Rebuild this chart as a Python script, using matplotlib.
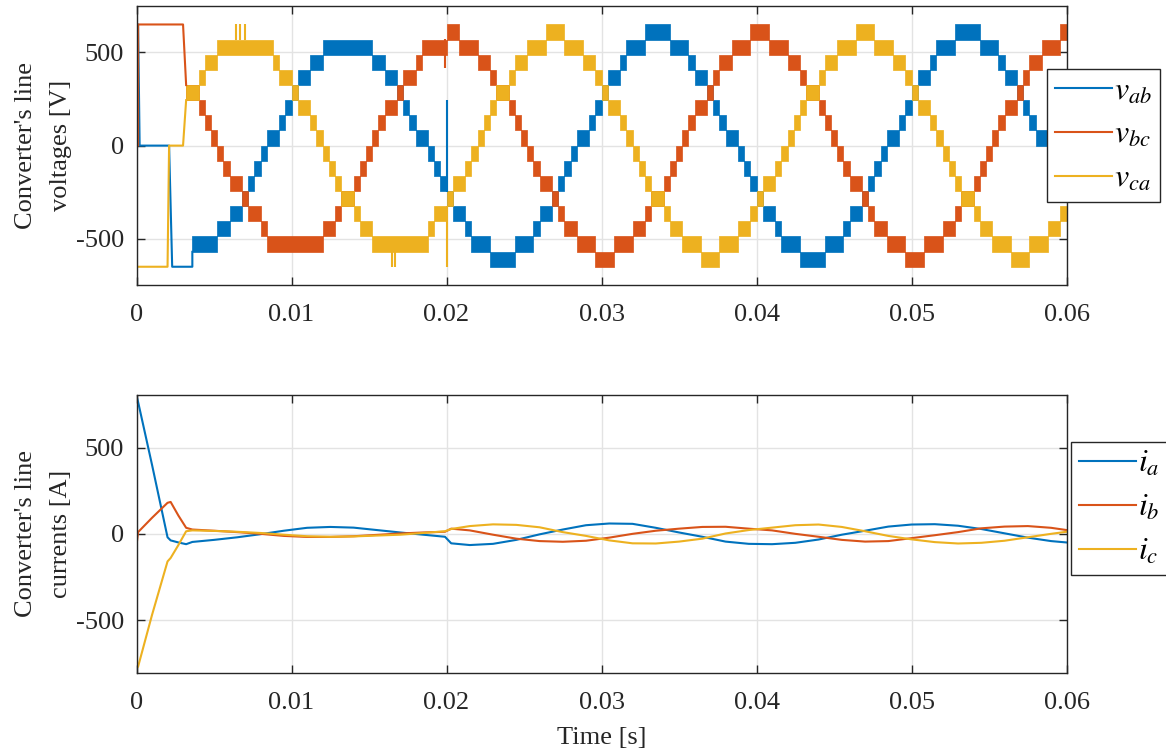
import numpy as np
import matplotlib.pyplot as plt
from matplotlib.lines import Line2D

plt.rcParams['font.family'] = ['Liberation Serif', 'DejaVu Serif']
plt.rcParams['mathtext.fontset'] = 'stix'
plt.rcParams['axes.unicode_minus'] = False

# MATLAB default colour order
c_ab = '#0072BD'
c_bc = '#D95319'
c_ca = '#EDB120'

# ---------------- line voltages ----------------
# start-up part (before the multilevel modulation begins)
vab_start_t = [0, 0, 0.0001, 0.0002, 0.0021, 0.0023, 0.0036, 0.0036]
vab_start_v = [0, 650, 650, 0, 0, -650, -650, -570]
vbc_start_t = [0, 0.0001, 0.0001, 0.0030, 0.0032]
vbc_start_v = [0, 0, 650, 650, 325]
vca_start_t = [0, 0, 0.0020, 0.0021, 0.0030, 0.0032]
vca_start_v = [0, -650, -650, 0, 0, 244]

# staircase: index of the lower level of the switching band,
# sampled every 0.4 ms from t = 3.2 ms (one level = 650/8 V)
v_t0 = 0.0032
v_dt = 0.0004
lvl = 650 / 8
vab_lvl = [None, -7, -7, -7, -7, -6, -6, -5, -5, -4, -3, -2, -1,
           0, 0, 1, 2, 3, 4, 4, 5, 5, 6, 6, 6, 6, 6, 6, 6, 6,
           5, 5, 4, 4, 3, 2, 1, 0, 0, -1, -2, -3,
           -4, -5, -5, -6, -7, -7, -7, -8,
           -8, -8, -8, -7, -7, -7, -6, -5, -5, -4, -3, -2, -1,
           0, 0, 1, 2, 3, 4, 4, 5, 6, 6, 6, 7, 7, 7, 7,
           6, 6, 6, 5, 4, 4, 3, 2, 1, 0, 0, -1, -2, -3, -4, -5, -5, -6, -7, -7, -7, -8,
           -8, -8, -8, -7, -7, -7, -6, -5, -5, -4, -3, -2, -1,
           0, 0, 1, 2, 3, 4, 4, 5, 6, 6, 6, 7, 7, 7, 7,
           6, 6, 6, 5, 4, 4, 3, 2, 1, 0, 0, -1, -2, -3, -4]
vbc_lvl = [3, 3, 2, 1, 0, -1, -2, -3, -3, -4, -5, -5, -6, -7, -7,
           -7, -7, -7, -7, -7, -7, -7, -6, -6, -5, -4, -4, -3, -2, -1,
           0, 1, 2, 2, 3, 4, 4, 5, 6, 6, 6, 6,
           7, 7, 6, 6, 6, 5, 5, 4,
           3, 3, 2, 1, 0, -1, -2, -3, -3, -4, -5, -6, -6, -7, -7,
           -7, -8, -8, -8, -7, -7, -7, -6, -6, -5, -4, -4, -3, -2, -1,
           0, 1, 2, 2, 3, 4, 5, 5, 6, 6, 6, 7, 7, 7, 6, 6, 6, 5, 5, 4,
           3, 3, 2, 1, 0, -1, -2, -3, -3, -4, -5, -6, -6, -7, -7,
           -7, -8, -8, -8, -7, -7, -7, -6, -6, -5, -4, -4, -3, -2, -1,
           0, 1, 2, 2, 3, 4, 5, 5, 6, 6, 6, 7, 7]
vca_lvl = [3, 3, 4, 5, 5, 6, 6, 6, 6, 6, 6, 6, 6, 6, 5, 4, 4, 3, 2, 2, 1, 0,
           -1, -2, -3, -4, -4, -5, -6, -6, -7, -7, -7, -7, -7, -7, -7, -7, -7,
           -6, -5, -5,
           -4, -3, -3, -2, -1, 0, 1, 2,
           3, 3, 4, 5, 5, 6, 6, 6, 7, 7, 7, 6, 6, 6, 5, 5, 4, 3, 2, 2, 1, 0,
           -1, -2, -3, -4, -4, -5, -6, -6, -7, -7, -7, -8, -8, -8, -7, -7, -7,
           -6, -6, -5, -4, -3, -3, -2, -1, 0, 1, 2,
           3, 3, 4, 5, 5, 6, 6, 6, 7, 7, 7, 6, 6, 6, 5, 5, 4, 3, 2, 2, 1, 0,
           -1, -2, -3, -4, -4, -5, -6, -6, -7, -7, -7, -8, -8, -8, -7, -7, -7,
           -6, -6, -5, -4]

# isolated switching spikes
vab_spk_t, vab_spk_lo, vab_spk_hi = [0.0200], [-250], [245]
vbc_spk_t, vbc_spk_lo, vbc_spk_hi = [0.0199], [415], [570]
vca_spk_t = [0.0064, 0.0067, 0.0070, 0.0165, 0.0167, 0.0200]
vca_spk_lo = [569, 569, 569, -650, -650, -650]
vca_spk_hi = [650, 650, 650, -569, -569, -325]

# ---------------- line currents ----------------
i_t = [0, 0.0001, 0.001, 0.002, 0.0022, 0.0027, 0.0032, 0.0036, 0.005, 0.0065,
       0.008, 0.0095, 0.011, 0.0125, 0.014, 0.0155, 0.017, 0.0185, 0.0199, 0.0203,
       0.0215, 0.023, 0.0245, 0.026, 0.0275, 0.029, 0.0305, 0.032, 0.0335, 0.035,
       0.0365, 0.038, 0.0395, 0.041, 0.0425, 0.044, 0.0455, 0.047, 0.0485, 0.05,
       0.0515, 0.053, 0.0545, 0.056, 0.0575, 0.059, 0.06]
i_a = [800, 765, 400, -20, -38, -50, -60, -47, -35, -20,
       -2, 18, 35, 40, 36, 22, 8, -5, -17, -55,
       -65, -58, -35, -3, 25, 50, 60, 58, 35, 8,
       -17, -45, -58, -60, -52, -33, -5, 18, 42, 54,
       56, 47, 28, 3, -22, -42, -50]
i_b = [-65, 10, 93, 180, 185, 106, 35, 25, 18, 10,
       0, -12, -18, -18, -14, -6, 2, 8, 12, 30,
       20, -5, -28, -42, -46, -40, -22, 0, 18, 30,
       40, 41, 30, 20, 0, -17, -35, -45, -42, -25,
       -8, 10, 32, 42, 45, 35, 22]
i_c = [-780, -770, -470, -160, -140, -65, 15, 20, 17, 12,
       5, -5, -14, -17, -15, -10, -5, 5, 15, 28,
       45, 55, 52, 38, 10, -12, -38, -55, -56, -45,
       -28, 2, 22, 36, 50, 54, 40, 15, -12, -32,
       -48, -56, -52, -40, -20, 0, 12]

x_ticks = [0, 0.01, 0.02, 0.03, 0.04, 0.05, 0.06]
x_ticklabels = ['0', '0.01', '0.02', '0.03', '0.04', '0.05', '0.06']
y_ticks = [-500, 0, 500]

fig = plt.figure(figsize=(11.66, 7.53), dpi=100)
ax1 = fig.add_axes([0.1171, 0.6215, 0.7976, 0.3705])
ax2 = fig.add_axes([0.1171, 0.1067, 0.7976, 0.3687])

v_t = v_t0 + v_dt * np.arange(len(vab_lvl))
series = [
    (vab_start_t, vab_start_v, vab_lvl, vab_spk_t, vab_spk_lo, vab_spk_hi, c_ab),
    (vbc_start_t, vbc_start_v, vbc_lvl, vbc_spk_t, vbc_spk_lo, vbc_spk_hi, c_bc),
    (vca_start_t, vca_start_v, vca_lvl, vca_spk_t, vca_spk_lo, vca_spk_hi, c_ca),
]
for st, sv, lv, sp_t, sp_lo, sp_hi, col in series:
    lo = np.array(lv, dtype=float) * lvl
    ax1.fill_between(v_t, lo, lo + lvl, step='post', color=col,
                     edgecolor=col, linewidth=0.5)
    ax1.plot(st, sv, color=col, lw=1.5)
    ax1.vlines(sp_t, sp_lo, sp_hi, color=col, lw=1.5)

ax2.plot(i_t, i_a, color=c_ab, lw=1.5)
ax2.plot(i_t, i_b, color=c_bc, lw=1.5)
ax2.plot(i_t, i_c, color=c_ca, lw=1.5)

ax1.set_ylim(-748, 749)
ax2.set_ylim(-805, 805)

for ax in (ax1, ax2):
    ax.set_xlim(0, 0.06)
    ax.set_xticks(x_ticks)
    ax.set_xticklabels(x_ticklabels)
    ax.set_yticks(y_ticks)
    ax.grid(True, color='#e3e3e3', lw=1)
    ax.set_axisbelow(True)
    ax.tick_params(direction='in', length=6, width=1, top=True, right=True,
                   labelsize=19, colors='#262626', pad=9)
    ax.tick_params(axis='x', pad=14)
    for s in ax.spines.values():
        s.set_color('#262626')
        s.set_linewidth(1)

ax1.text(-0.1, 0.5, "Converter's line\nvoltages [V]", transform=ax1.transAxes,
         rotation=90, ha='center', va='center', fontsize=19, linespacing=1.75,
         color='#262626')
ax2.text(-0.1, 0.5, "Converter's line\ncurrents [A]", transform=ax2.transAxes,
         rotation=90, ha='center', va='center', fontsize=19, linespacing=1.75,
         color='#262626')
ax2.set_xlabel('Time [s]', fontsize=19, color='#262626', labelpad=9)

leg_kw = dict(loc='upper left', fontsize=23, fancybox=False, framealpha=1,
              edgecolor='#262626', borderaxespad=0, handlelength=1.8,
              handletextpad=0.05, labelspacing=0.45, borderpad=0.25)
h1 = [Line2D([], [], color=c, lw=1.5) for c in (c_ab, c_bc, c_ca)]
lg1 = ax1.legend(h1, [r'$v_{ab}$', r'$v_{bc}$', r'$v_{ca}$'],
                 bbox_to_anchor=(0.979, 0.774), **leg_kw)
lg1.get_frame().set_linewidth(1)
lg1.set_zorder(10)
lg2 = ax2.legend(h1, [r'$i_{a}$', r'$i_{b}$', r'$i_{c}$'],
                 bbox_to_anchor=(1.0048, 0.831), **leg_kw)
lg2.get_frame().set_linewidth(1)
lg2.set_zorder(10)

fig.savefig('out.png', dpi=100)
